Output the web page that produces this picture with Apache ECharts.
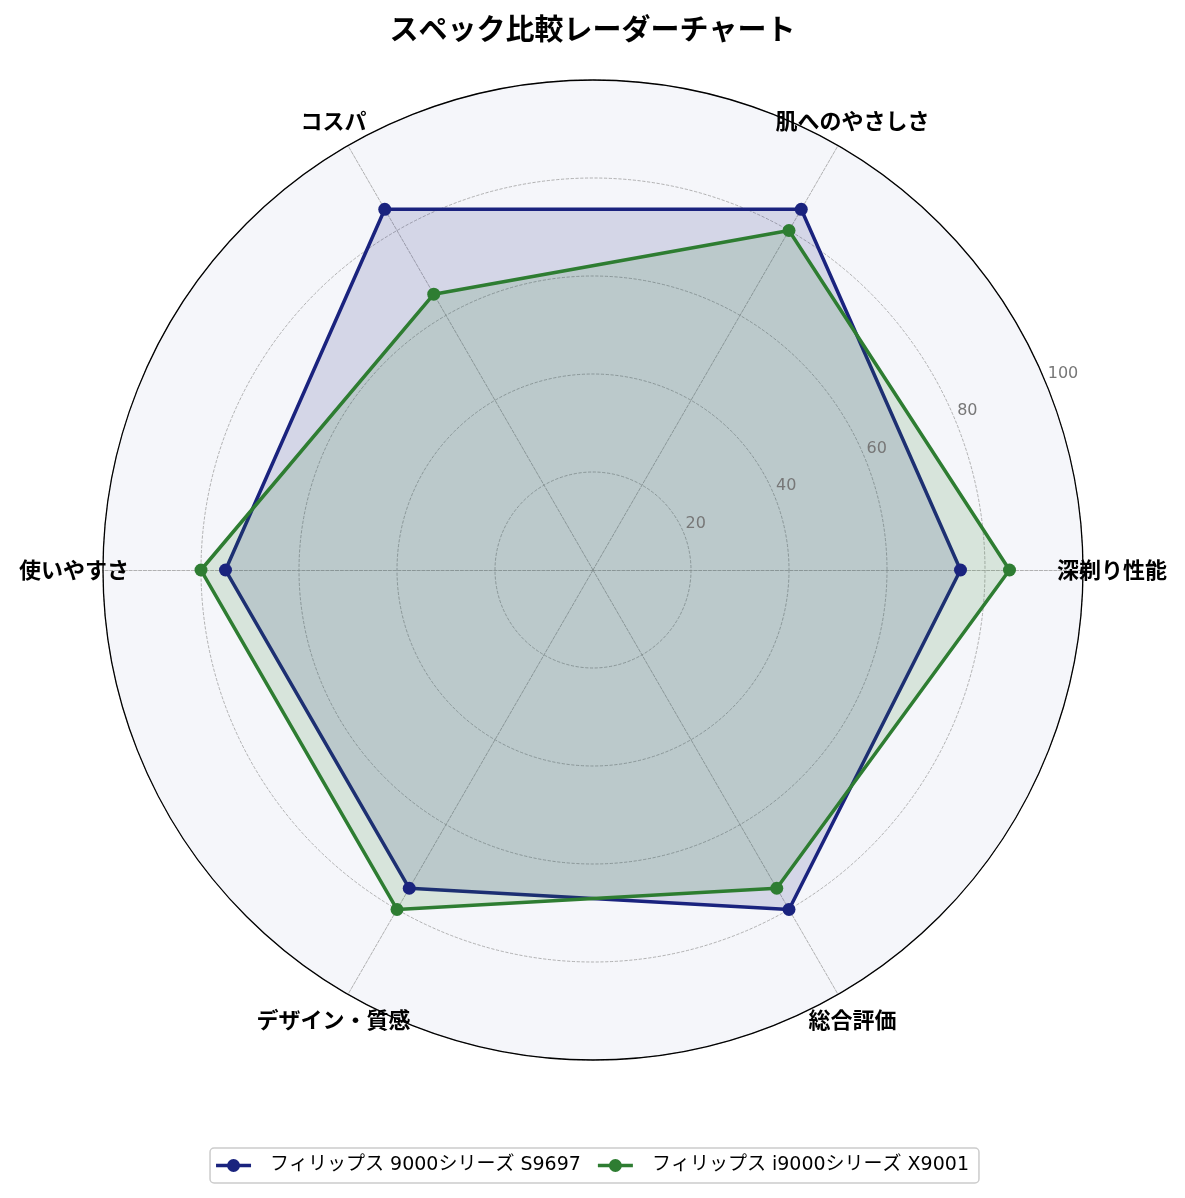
<!DOCTYPE html>
<html><head><meta charset="utf-8">
<script src="https://cdn.jsdelivr.net/npm/echarts@6/dist/echarts.min.js"></script>
<style>html,body{margin:0;padding:0;background:#fff}#c{width:1185px;height:1198px}</style>
</head><body><div id="c"></div>
<script>
const categories = ['深剃り性能', '肌へのやさしさ', 'コスパ', '使いやすさ', 'デザイン・質感', '総合評価'];
const seriesNames = ['フィリップス 9000シリーズ S9697', 'フィリップス i9000シリーズ X9001'];
const s9697 = [75, 85, 85, 75, 75, 80];
const x9001 = [85, 80, 65, 80, 80, 75];
const rTicks = [0, 20, 40, 60, 80, 100];

const FONT = '"Noto Sans CJK JP", "Noto Sans", sans-serif';
const LATIN_FONT = '"DejaVu Sans", "Noto Sans CJK JP", sans-serif';
const center = [593, 570];
const radius = 490;
const colors = ['#1a237e', '#2e7d32'];
const legendIcon = 'path://M0,5.3 H35 V8.7 H0 Z M24,7 A6.5,6.5 0 1 1 11,7 A6.5,6.5 0 1 1 24,7 Z M49,0 L49,14';

const chart = echarts.init(document.getElementById('c'));
chart.setOption({
  backgroundColor: '#ffffff',
  animation: false,
  textStyle: { fontFamily: FONT },
  title: {
    text: 'スペック比較レーダーチャート',
    left: 'center', top: 9,
    textStyle: { fontFamily: FONT, fontWeight: 'bold', fontSize: 29, color: '#000' }
  },
  legend: {
    bottom: 15, left: 'center',
    data: seriesNames.map((n, i) => ({ name: n, icon: legendIcon, itemStyle: { color: colors[i] } })),
    itemWidth: 49, itemHeight: 14, itemGap: 17,
    borderColor: '#cccccc', borderWidth: 1.5, borderRadius: 4,
    padding: [8, 10, 8, 6],
    textStyle: { fontFamily: LATIN_FONT, fontSize: 19, color: '#000' }
  },
  radar: {
    center: center, radius: radius, startAngle: 0, shape: 'circle',
    splitNumber: 5,
    indicator: categories.map(c => ({ name: c, min: rTicks[0], max: rTicks[rTicks.length - 1] })),
    axisName: {
      color: '#000', fontWeight: 'bold', fontSize: 22, fontFamily: FONT,
      align: 'center', verticalAlign: 'middle'
    },
    nameGap: 29,
    splitLine: { lineStyle: { color: '#a0a0a0', type: 'dashed', width: 0.8 } },
    splitArea: { show: true, areaStyle: { color: ['#f5f6fa'] } },
    axisLine: { lineStyle: { color: '#a0a0a0', type: 'dashed', width: 0.8 } }
  },
  polar: { center: center, radius: radius },
  angleAxis: {
    type: 'value', min: 0, max: 360, startAngle: 22.5, z: 10,
    axisLine: { show: true, lineStyle: { color: '#000', width: 1.3 } },
    axisTick: { show: false }, axisLabel: { show: false }, splitLine: { show: false }
  },
  radiusAxis: {
    type: 'value', min: rTicks[0], max: rTicks[rTicks.length - 1], interval: 20, z: 10,
    axisLine: { show: false }, axisTick: { show: false }, splitLine: { show: false },
    axisLabel: {
      show: true, color: '#777', fontSize: 16, fontFamily: LATIN_FONT,
      margin: 0, align: 'left', verticalAlign: 'bottom', padding: [0, 0, 1, 2],
      formatter: v => (v === 0 ? '' : String(v))
    }
  },
  series: [{
    type: 'radar',
    z: 3,
    data: [
      {
        name: seriesNames[0], value: s9697,
        symbol: 'circle', symbolSize: 13,
        itemStyle: { color: colors[0] },
        lineStyle: { color: colors[0], width: 3.5 },
        areaStyle: { color: colors[0], opacity: 0.15 }
      },
      {
        name: seriesNames[1], value: x9001,
        symbol: 'circle', symbolSize: 13,
        itemStyle: { color: colors[1] },
        lineStyle: { color: colors[1], width: 3.5 },
        areaStyle: { color: colors[1], opacity: 0.15 }
      }
    ]
  }]
});
</script></body></html>
